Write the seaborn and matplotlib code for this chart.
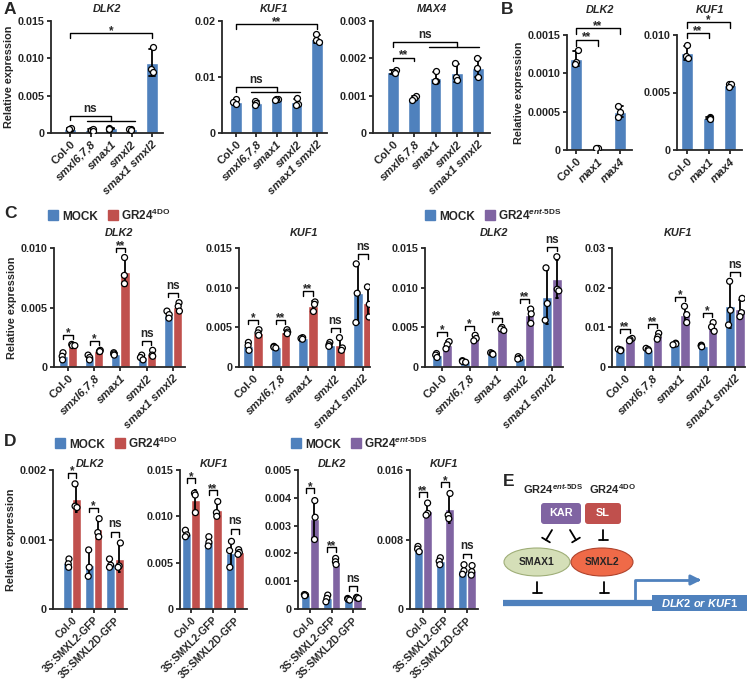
import numpy as np
import pandas as pd
import matplotlib.pyplot as plt
import seaborn as sns
from matplotlib.lines import Line2D
from matplotlib.patches import FancyBboxPatch, Ellipse

# ---------------- data (three replicates per bar) ----------------
a_lines = ["Col-0", "smxl6,7,8", "smax1", "smxl2", "smax1 smxl2"]
b_lines = ["Col-0", "max1", "max4"]
d_lines = ["Col-0", "3S:SMXL2-GFP", "3S:SMXL2D-GFP"]
italic_lines = {"smxl6,7,8", "smax1", "smxl2", "smax1 smxl2", "max1", "max4"}

# A
a_dlk2 = [[0.0006, 0.0007, 0.0005], [0.0004, 0.0005, 0.0003], [0.0006, 0.0007, 0.0006],
          [0.0005, 0.0006, 0.0004], [0.0115, 0.0086, 0.0082]]
a_kuf1 = [[0.0060, 0.0055, 0.0052], [0.0058, 0.0053, 0.0050], [0.0061, 0.0060, 0.0059],
          [0.0062, 0.0052, 0.0050], [0.0176, 0.0166, 0.0163]]
a_max4 = [[0.00170, 0.00163, 0.00160], [0.00100, 0.00093, 0.00088], [0.00165, 0.00140, 0.00138],
          [0.00188, 0.00150, 0.00142], [0.00200, 0.00175, 0.00150]]
# B
b_dlk2 = [[0.00130, 0.00115, 0.00112], [0.00003, 0.00002, 0.00002], [0.00057, 0.00050, 0.00043]]
b_kuf1 = [[0.0091, 0.0082, 0.0080], [0.0029, 0.0028, 0.0027], [0.0057, 0.0057, 0.0055]]

# C (MOCK vs GR24-4DO, MOCK vs GR24-ent-5DS)
c_dlk2_mock = [[0.0012, 0.0009, 0.0006], [0.0010, 0.0008, 0.0006], [0.0012, 0.0011, 0.0010],
               [0.0010, 0.0008, 0.0006], [0.0047, 0.0044, 0.0041]]
c_dlk2_4do = [[0.0019, 0.0018, 0.0018], [0.0014, 0.0013, 0.0013], [0.0092, 0.0077, 0.0070],
              [0.0014, 0.0010, 0.0009], [0.0054, 0.0051, 0.0047]]
c_kuf1_mock = [[0.0031, 0.0027, 0.0021], [0.0026, 0.0025, 0.0024], [0.0037, 0.0036, 0.0035],
               [0.0031, 0.0028, 0.0026], [0.0130, 0.0093, 0.0056]]
c_kuf1_4do = [[0.0047, 0.0043, 0.0040], [0.0047, 0.0044, 0.0042], [0.0082, 0.0079, 0.0070],
              [0.0037, 0.0024, 0.0021], [0.0101, 0.0079, 0.0063]]
c_dlk2_mock2 = [[0.0017, 0.0015, 0.0012], [0.0008, 0.0007, 0.0006], [0.0018, 0.0017, 0.0016],
                [0.0013, 0.0011, 0.0010], [0.0125, 0.0080, 0.0059]]
c_dlk2_ent = [[0.0032, 0.0028, 0.0023], [0.0040, 0.0036, 0.0033], [0.0050, 0.0048, 0.0046],
              [0.0073, 0.0067, 0.0055], [0.0139, 0.0098, 0.0096]]
c_kuf1_mock2 = [[0.0045, 0.0043, 0.0041], [0.0047, 0.0044, 0.0041], [0.0060, 0.0058, 0.0056],
                [0.0055, 0.0053, 0.0051], [0.0216, 0.0143, 0.0106]]
c_kuf1_ent = [[0.0072, 0.0069, 0.0066], [0.0085, 0.0076, 0.0070], [0.0153, 0.0132, 0.0112],
              [0.0112, 0.0101, 0.0090], [0.0173, 0.0137, 0.0127]]
c_dlk2_sig = ["*", "*", "**", "ns", "ns"]
c_kuf1_sig = ["*", "**", "**", "ns", "ns"]
c_dlk2_sig2 = ["*", "*", "**", "**", "ns"]
c_kuf1_sig2 = ["**", "**", "*", "*", "ns"]

# D
d_dlk2_mock = [[0.00072, 0.00065, 0.00060], [0.00085, 0.00060, 0.00047], [0.00072, 0.00063, 0.00060]]
d_dlk2_4do = [[0.00180, 0.00148, 0.00146], [0.00130, 0.00110, 0.00104], [0.00095, 0.00062, 0.00060]]
d_kuf1_mock = [[0.0085, 0.0080, 0.0078], [0.0078, 0.0072, 0.0068], [0.0073, 0.0063, 0.0045]]
d_kuf1_4do = [[0.0125, 0.0123, 0.0104], [0.0116, 0.0104, 0.0100], [0.0064, 0.0061, 0.0059]]
d_dlk2_mock2 = [[0.00052, 0.00050, 0.00048], [0.00050, 0.00038, 0.00026], [0.00038, 0.00035, 0.00032]]
d_dlk2_ent = [[0.0039, 0.0033, 0.0025], [0.00182, 0.00170, 0.00160], [0.00042, 0.00040, 0.00038]]
d_kuf1_mock2 = [[0.0072, 0.0069, 0.0066], [0.0059, 0.0055, 0.0051], [0.0051, 0.0044, 0.0040]]
d_kuf1_ent = [[0.0122, 0.0110, 0.0108], [0.0133, 0.0108, 0.0104], [0.0050, 0.0043, 0.0039]]
d_dlk2_sig = ["*", "*", "ns"]
d_kuf1_sig = ["*", "**", "ns"]
d_dlk2_sig2 = ["*", "**", "ns"]
d_kuf1_sig2 = ["**", "*", "ns"]

blue = "#4f81bd"
red = "#c0504d"
purple = "#8064a2"

# ---------------- style ----------------
sns.set_style("ticks")
plt.rcParams.update({
    "font.family": ["Liberation Sans", "DejaVu Sans"],
    "font.weight": "bold",
    "axes.labelweight": "bold",
    "axes.titleweight": "bold",
    "axes.linewidth": 1.3,
    "xtick.major.width": 1.3,
    "ytick.major.width": 1.3,
    "xtick.major.size": 3,
    "ytick.major.size": 3,
    "xtick.major.pad": 1.5,
    "ytick.major.pad": 1.5,
    "ytick.labelsize": 7.8,
    "mathtext.fontset": "custom",
    "mathtext.rm": "Liberation Sans:bold",
    "mathtext.it": "Liberation Sans:bold:italic",
    "mathtext.bf": "Liberation Sans:bold",
})
np.random.seed(3)  # only for the horizontal jitter of the replicate dots

W, H = 750, 683
fig = plt.figure(figsize=(7.5, 6.83), dpi=100)


def rect(l, t, r, b):
    return [l / W, 1 - b / H, (r - l) / W, (b - t) / H]


def to_df(order, reps, treat):
    return pd.DataFrame({"line": np.repeat(order, [len(v) for v in reps]),
                         "value": np.concatenate(reps), "treat": treat})


def finish(ax, box, order, ymax, ticks, ticklabels, title, pad, ylabel, xsize):
    l, t, r, b, first, last = box
    n = len(order)
    s = (last - first) / (n - 1)
    ax.set_xlim(-(first - l) / s, n - 1 + (r - last) / s)
    ax.set_ylim(0, ymax)
    ax.set_yticks(ticks)
    ax.set_yticklabels(ticklabels)
    ax.set_xticks(range(n))
    ax.set_xticklabels(order, rotation=45, ha="right", rotation_mode="anchor", fontsize=xsize)
    for lab in ax.get_xticklabels():
        if lab.get_text() in italic_lines:
            lab.set_fontstyle("italic")
    ax.set_xlabel("")
    ax.set_ylabel("Relative expression" if ylabel else "", fontsize=7.8, labelpad=3)
    ax.set_title(title, fontstyle="italic", fontsize=7.8, pad=pad)
    sns.despine(ax=ax)


def sig_text(ax, x, y, text, ymax):
    if "*" in text:
        ax.text(x, y - 0.035 * ymax, text, ha="center", va="bottom", fontsize=8.5, clip_on=False)
    else:
        ax.text(x, y + 0.01 * ymax, text, ha="center", va="bottom", fontsize=8.5, clip_on=False)


def simple_panel(box, order, reps, ymax, ticks, ticklabels, title, pad, brackets, groups,
                 ylabel=False):
    ax = fig.add_axes(rect(*box[:4]))
    df = to_df(order, reps, "MOCK")
    sns.barplot(data=df, x="line", y="value", order=order, color=blue, saturation=1,
                width=0.55, errorbar="sd", capsize=0.25,
                err_kws={"color": "black", "linewidth": 1.3}, ax=ax)
    sns.stripplot(data=df, x="line", y="value", order=order, color="white", jitter=0.13,
                  edgecolor="black", linewidth=0.9, size=4.3, ax=ax)
    for x1, x2, y, y1, y2, text in brackets:
        ax.plot([x1, x1, x2, x2], [y1, y, y, y2], color="black", lw=1, clip_on=False)
        sig_text(ax, (x1 + x2) / 2, y, text, ymax)
    for x1, x2, y in groups:
        ax.plot([x1, x2], [y, y], color="black", lw=1, clip_on=False)
    finish(ax, box, order, ymax, ticks, ticklabels, title, pad, ylabel, 8.2)
    return ax


def paired_panel(box, order, mock, trt, trt_name, color, ymax, ticks, ticklabels, title, pad,
                 marks, width, ylabel=False, xsize=8.2):
    ax = fig.add_axes(rect(*box[:4]))
    df = pd.concat([to_df(order, mock, "MOCK"), to_df(order, trt, trt_name)])
    hue_order = ["MOCK", trt_name]
    sns.barplot(data=df, x="line", y="value", hue="treat", order=order, hue_order=hue_order,
                palette=[blue, color], saturation=1, width=width, errorbar="sd", capsize=0.12,
                err_kws={"color": "black", "linewidth": 1.3}, legend=False, ax=ax)
    sns.stripplot(data=df, x="line", y="value", hue="treat", order=order, hue_order=hue_order,
                  palette={"MOCK": "white", trt_name: "white"}, dodge=True, jitter=0.13,
                  edgecolor="black", linewidth=0.9, size=4.3, legend=False, ax=ax)
    off = width / 4
    for i, (g, m) in enumerate(zip(order, marks)):
        sub = df[df["line"] == g]
        stats = sub.groupby("treat")["value"]
        top = max(sub["value"].max(), (stats.mean() + stats.std()).max())
        y = top + 0.08 * ymax
        h = 0.035 * ymax
        ax.plot([i - off, i - off, i + off, i + off], [y - h, y, y, y - h], color="black",
                lw=1, clip_on=False)
        sig_text(ax, i, y, m, ymax)
    finish(ax, box, order, ymax, ticks, ticklabels, title, pad, ylabel, xsize)
    return ax


# ---------------- panel A ----------------
simple_panel((51, 21, 163, 133, 70, 152), a_lines, a_dlk2, 0.015, [0, 0.005, 0.010, 0.015],
             ["0", "0.005", "0.010", "0.015"], "DLK2", 6.5,
             [(0, 4, 0.0134, 0.0127, 0.0127, "*"), (0, 2, 0.0023, 0.0017, 0.0016, "ns")],
             [(0.83, 3.17, 0.0016)], ylabel=True)
simple_panel((222, 21, 327, 133, 236, 317), a_lines, a_kuf1, 0.02, [0, 0.01, 0.02],
             ["0", "0.01", "0.02"], "KUF1", 6.5,
             [(0, 4, 0.0195, 0.0185, 0.0185, "**"), (0, 2, 0.0082, 0.0074, 0.0074, "ns")],
             [(0.75, 3.15, 0.0074)])
simple_panel((373, 21, 490, 133, 393, 478), a_lines, a_max4, 0.003, [0, 0.001, 0.002, 0.003],
             ["0", "0.001", "0.002", "0.003"], "MAX4", 6.5,
             [(0, 1, 0.00202, 0.00192, 0.00192, "**"), (0, 3, 0.00244, 0.00231, 0.00231, "ns")],
             [(1.7, 4.05, 0.00231)])

# ---------------- panel B ----------------
simple_panel((567, 35, 632, 150, 576, 620), b_lines, b_dlk2, 0.0015,
             [0, 0.0005, 0.0010, 0.0015], ["0", "0.0005", "0.0010", "0.0015"], "DLK2", 16,
             [(0, 1, 0.00144, 0.00136, 0.00136, "**"), (0, 2, 0.00159, 0.00151, 0.00151, "**")],
             [], ylabel=True)
simple_panel((677, 35, 742, 150, 687, 730), b_lines, b_kuf1, 0.010, [0, 0.005, 0.010],
             ["0", "0.005", "0.010"], "KUF1", 16,
             [(0, 1, 0.0102, 0.0097, 0.0097, "**"), (0, 2, 0.0111, 0.0106, 0.0106, "*")], [])

# ---------------- panel C ----------------
gr4do = r"GR24$^{\mathrm{4DO}}$"
grent = r"GR24$^{\mathit{ent}\mathrm{‐5DS}}$"
paired_panel((54, 248, 185, 367, 68, 173), a_lines, c_dlk2_mock, c_dlk2_4do, "4DO", red,
             0.010, [0, 0.005, 0.010], ["0", "0.005", "0.010"], "DLK2", 8.5, c_dlk2_sig, 0.7,
             ylabel=True)
paired_panel((239, 248, 370, 367, 253, 363), a_lines, c_kuf1_mock, c_kuf1_4do, "4DO", red,
             0.015, [0, 0.005, 0.010, 0.015], ["0", "0.005", "0.010", "0.015"], "KUF1", 8.5,
             c_kuf1_sig, 0.7)
paired_panel((425, 248, 563, 367, 442, 552), a_lines, c_dlk2_mock2, c_dlk2_ent, "ent", purple,
             0.015, [0, 0.005, 0.010, 0.015], ["0", "0.005", "0.010", "0.015"], "DLK2", 8.5,
             c_dlk2_sig2, 0.7)
paired_panel((612, 248, 745, 367, 625, 735), a_lines, c_kuf1_mock2, c_kuf1_ent, "ent", purple,
             0.03, [0, 0.01, 0.02, 0.03], ["0", "0.01", "0.02", "0.03"], "KUF1", 8.5,
             c_kuf1_sig2, 0.7)

# ---------------- panel D ----------------
paired_panel((53, 470, 127, 609, 72, 115), d_lines, d_dlk2_mock, d_dlk2_4do, "4DO", red,
             0.002, [0, 0.001, 0.002], ["0", "0.001", "0.002"], "DLK2", 2.5, d_dlk2_sig, 0.8,
             ylabel=True, xsize=7.4)
paired_panel((180, 470, 247, 609, 191, 235), d_lines, d_kuf1_mock, d_kuf1_4do, "4DO", red,
             0.015, [0, 0.005, 0.010, 0.015], ["0", "0.005", "0.010", "0.015"], "KUF1", 2.5,
             d_kuf1_sig, 0.8, xsize=7.4)
paired_panel((298, 470, 365, 609, 310, 353), d_lines, d_dlk2_mock2, d_dlk2_ent, "ent", purple,
             0.005, [0, 0.001, 0.002, 0.003, 0.004, 0.005],
             ["0", "0.001", "0.002", "0.003", "0.004", "0.005"], "DLK2", 2.5, d_dlk2_sig2, 0.8,
             xsize=7.4)
paired_panel((410, 470, 478, 609, 423, 467), d_lines, d_kuf1_mock2, d_kuf1_ent, "ent", purple,
             0.016, [0, 0.008, 0.016], ["0", "0.008", "0.016"], "KUF1", 2.5, d_kuf1_sig2, 0.8,
             xsize=7.4)


# legends
def add_legend(x, y, color, label):
    handles = [Line2D([], [], marker="s", ls="", ms=6.5, color=blue),
               Line2D([], [], marker="s", ls="", ms=6.5, color=color)]
    fig.legend(handles, ["MOCK", label], loc="center left", bbox_to_anchor=(x / W, 1 - y / H),
               ncol=2, frameon=False, handlelength=0.7, handletextpad=0.4, columnspacing=0.9,
               borderaxespad=0, borderpad=0, prop={"weight": "bold", "size": 8.5})


add_legend(49, 215, red, gr4do)
add_legend(426, 215, purple, grent)
add_legend(56, 443, red, gr4do)
add_legend(292, 443, purple, grent)

# panel letters
for letter, x, y in [("A", 4, 10), ("B", 501, 10), ("C", 4, 213), ("D", 4, 441), ("E", 503, 481)]:
    fig.text(x / W, 1 - y / H, letter, fontsize=12.5, fontweight="bold", va="center")

# ---------------- panel E (model) ----------------
ax = fig.add_axes([0, 0, 1, 1], facecolor="none")
ax.set_xlim(0, W)
ax.set_ylim(H, 0)
ax.axis("off")

ax.text(553, 489, grent, ha="center", va="center", fontsize=8)
ax.text(612, 489, gr4do, ha="center", va="center", fontsize=8)
ax.add_patch(FancyBboxPatch((541, 503), 40, 21, boxstyle="round,pad=0,rounding_size=3",
                            fc=purple, ec="none"))
ax.add_patch(FancyBboxPatch((585, 503), 36, 21, boxstyle="round,pad=0,rounding_size=3",
                            fc=red, ec="none"))
ax.text(561, 513.5, "KAR", color="white", ha="center", va="center", fontsize=7.8)
ax.text(603, 513.5, "SL", color="white", ha="center", va="center", fontsize=7.8)


def inhibit(x0, y0, x1, y1, half=4.5):
    ax.plot([x0, x1], [y0, y1], color="black", lw=1.3)
    dx, dy = x1 - x0, y1 - y0
    n = np.hypot(dx, dy)
    px, py = -dy / n * half, dx / n * half
    ax.plot([x1 - px, x1 + px], [y1 - py, y1 + py], color="black", lw=1.3)


inhibit(552, 530, 546, 540)
inhibit(570, 530, 576, 540)
inhibit(603, 530, 603, 540)
ax.add_patch(Ellipse((537, 562), 66, 28, fc="#d5dfb8", ec="#9fae78", lw=0.8))
ax.add_patch(Ellipse((602, 562), 62, 28, fc="#ef6a48", ec="#b0432c", lw=0.8))
ax.text(537, 562, "SMAX1", ha="center", va="center", fontsize=7.5)
ax.text(602, 562, "SMXL2", ha="center", va="center", fontsize=7.5)
inhibit(537, 582, 537, 593)
inhibit(604, 582, 604, 593)

ax.plot([503, 747], [603, 603], color=blue, lw=4.5, solid_capstyle="butt")
ax.add_patch(plt.Rectangle((652, 595), 95, 16, fc=blue, ec="none"))
ax.text(699.5, 603, r"$\mathit{DLK2}$ or $\mathit{KUF1}$", color="white", ha="center",
        va="center", fontsize=8, fontstyle="italic")
ax.plot([635, 635, 695], [601, 580, 580], color=blue, lw=2)
ax.annotate("", xy=(704, 580), xytext=(693, 580),
            arrowprops=dict(arrowstyle="-|>,head_width=0.3,head_length=0.6", color=blue, lw=2))

fig.savefig("out.png", dpi=100)
